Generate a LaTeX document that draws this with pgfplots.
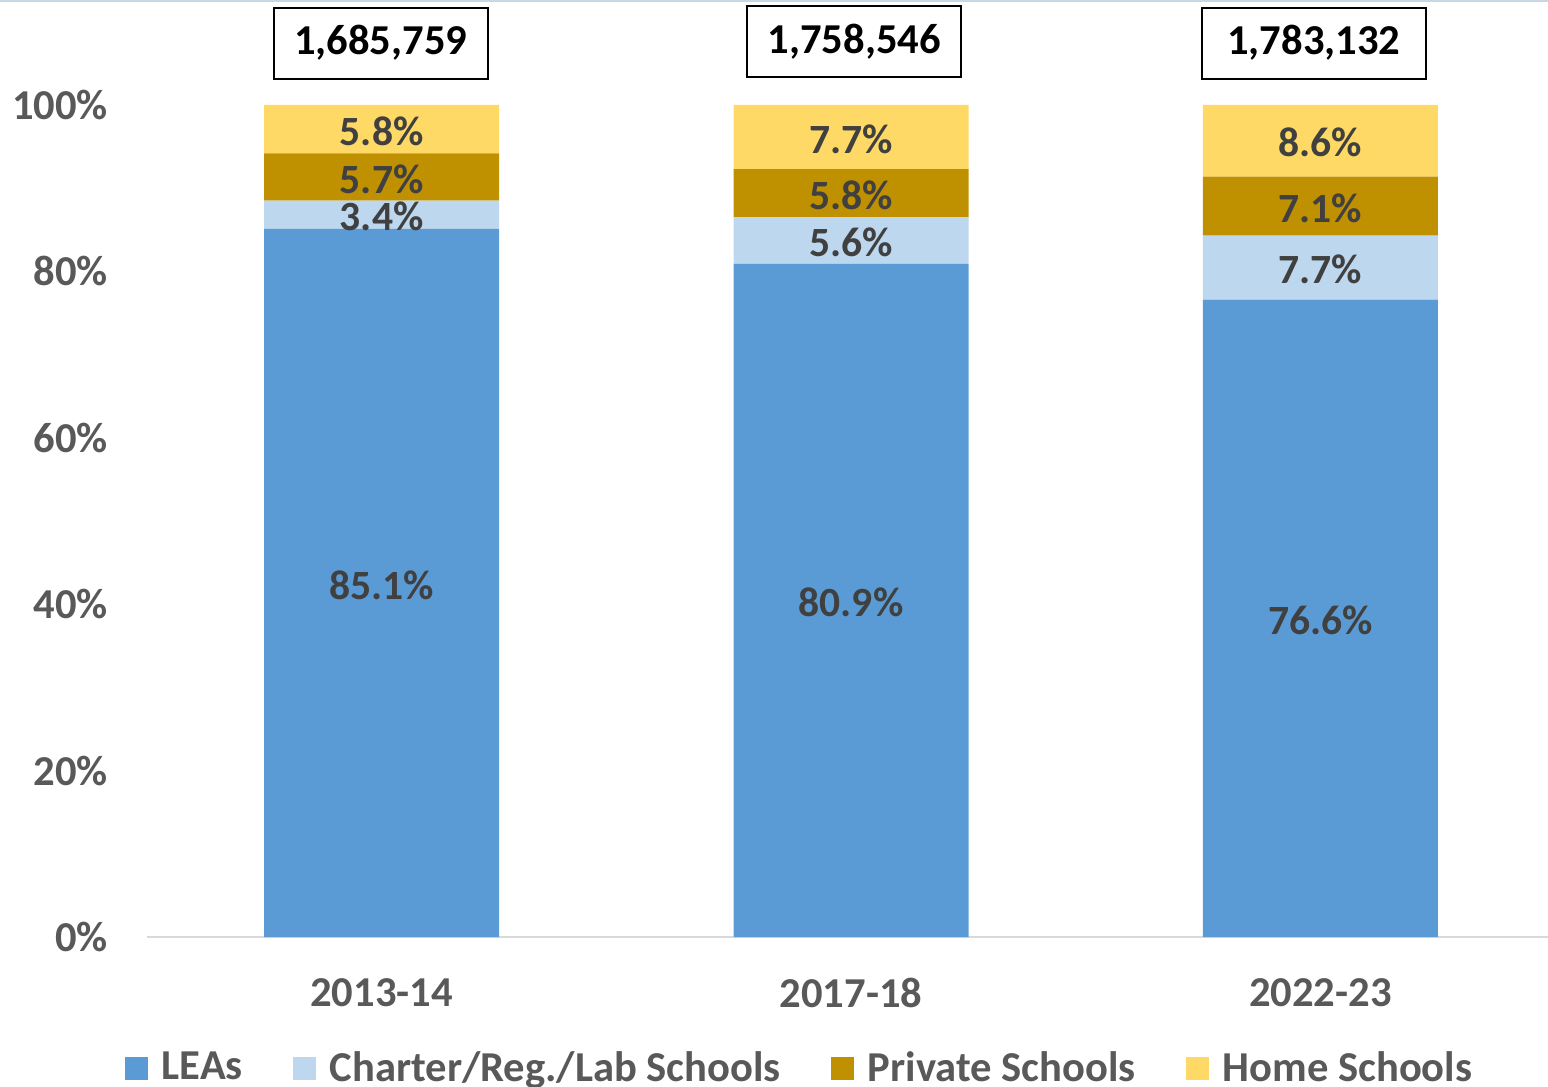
\documentclass[border=0pt]{standalone}
\usepackage{pgfplots}
\pgfplotsset{compat=1.18}
\usepackage{fontspec}
\setmainfont{Carlito}
\definecolor{leas}{HTML}{5B9BD5}
\definecolor{charter}{HTML}{BDD7EE}
\definecolor{private}{HTML}{BF9000}
\definecolor{home}{HTML}{FFD966}
\definecolor{tickgray}{HTML}{595959}
\definecolor{labgray}{HTML}{404040}
\begin{document}
\begin{tikzpicture}
\useasboundingbox (0,0) rectangle (774pt,543.5pt);
\draw[color={rgb,255:red,200;green,215;blue,230}, line width=1pt] (0,543pt) -- (774pt,543pt);
\begin{axis}[
  at={(73.5pt,75pt)}, anchor=south west,
  scale only axis, width=700.5pt, height=416pt,
  ybar stacked, bar width=117.5pt,
  xmin=-0.5, xmax=2.485, ymin=0, ymax=100,
  xtick={0,1,2}, xticklabels={2013-14,2017-18,2022-23},
  ytick={0,20,40,60,80,100},
  yticklabel={\pgfmathprintnumber{\tick}\%},
  /pgf/number format/assume math mode=true,
  tick style={draw=none},
  axis lines*=left,
  y axis line style={draw=none},
  x axis line style={draw={rgb,255:red,217;green,217;blue,217}, line width=1pt, -},
  ticklabel style={font=\fontsize{21.3}{26}\selectfont\bfseries, text=tickgray},
  xticklabel style={yshift=-17pt},
  yticklabel style={xshift=-16pt},
  clip=false,
  point meta=explicit,
  nodes near coords={\pgfmathprintnumber[fixed,fixed zerofill,precision=1]{\pgfplotspointmeta}\%},
  every node near coord/.append style={anchor=center, yshift=-1pt, font=\fontsize{20.8}{25}\selectfont\bfseries, text=labgray},
  legend style={at={(0.4665,-0.157)}, anchor=center, draw=none, legend columns=4,
    font=\fontsize{21.3}{26}\selectfont\bfseries, text=tickgray,
    /tikz/every odd column/.append style={column sep=5pt},
    /tikz/every even column/.append style={column sep=23pt}},
  legend image code/.code={\fill[#1] (0pt,-6pt) rectangle (11.5pt,5.5pt);},
]
\addplot[fill=leas, draw=none] coordinates {(0,85.1) [85.1] (1,80.9) [80.9] (2,76.6) [76.6]};
\addplot[fill=charter, draw=none] coordinates {(0,3.4) [3.4] (1,5.6) [5.6] (2,7.7) [7.7]};
\addplot[fill=private, draw=none] coordinates {(0,5.7) [5.7] (1,5.8) [5.8] (2,7.1) [7.1]};
\addplot[fill=home, draw=none] coordinates {(0,5.8) [5.8] (1,7.7) [7.7] (2,8.6) [8.6]};
\legend{LEAs,Charter/Reg./Lab Schools,Private Schools,Home Schools}
\tikzset{tot/.style={draw=black, line width=1pt, minimum height=35.5pt, text height=14.5pt, text depth=3pt, font=\fontsize{21.3}{26}\selectfont\bfseries}}
\node[tot, minimum width=107pt] at (axis cs:-0.002,107.45) {1,685,759};
\node[tot, minimum width=107pt] at (axis cs:1.007,107.6) {1,758,546};
\node[tot, minimum width=112pt] at (axis cs:1.986,107.45) {1,783,132};
\end{axis}
\end{tikzpicture}
\end{document}
